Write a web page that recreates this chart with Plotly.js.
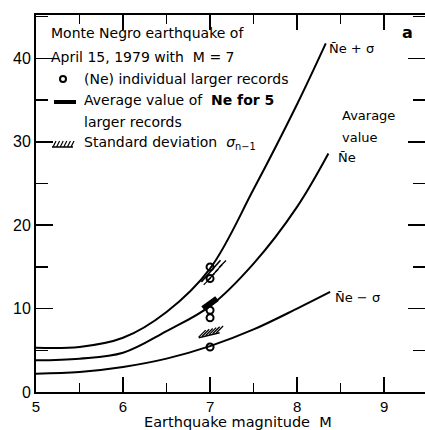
<!DOCTYPE html>
<html>
<head>
<meta charset="utf-8">
<script src="https://cdn.plot.ly/plotly-3.0.1.min.js"></script>
<style>html,body{margin:0;padding:0;background:#fff}#chart{width:425px;height:430px}</style>
</head>
<body>
<div id="chart"></div>
<script>
// ---- data ----
const magPlus  = [5, 5.5, 6, 6.5, 7, 7.5, 8, 8.33];
const nePlusSigma = [5.3, 5.4, 6.5, 9.6, 14.8, 24.3, 34.5, 41.8];

const magMean  = [5, 5.5, 6, 6.5, 7, 7.5, 8, 8.36];
const neMean   = [3.8, 4.0, 4.7, 7.3, 10.3, 15.4, 22.2, 28.6];

const magMinus = [5, 5.5, 6, 6.5, 7, 7.5, 8, 8.38];
const neMinusSigma = [2.2, 2.4, 3.0, 4.0, 5.5, 7.5, 10.0, 12.0];

const recordMag = [7, 7, 7, 7, 7];
const recordNe  = [15.0, 13.6, 9.8, 8.9, 5.4];

const avgMag = 7;
const avgNe = 10.6;
const sigmaUpper = 14.5;
const sigmaLower = 6.8;

const xTicks = [5, 6, 7, 8, 9];
const yTicks = [0, 10, 20, 30, 40];

// ---- helpers ----
function hatch(cx, cy, dx, dy, ox, oy, n) {
  const base = {x: [cx - dx, cx + dx], y: [cy - dy, cy + dy], mode: 'lines', line: {color: '#000', width: 1.6}, hoverinfo: 'skip'};
  const sx = [], sy = [];
  for (let i = 0; i < n; i++) {
    const t = -1 + (2 * i + 1) / n;
    sx.push(cx + t * dx + ox);
    sy.push(cy + t * dy + oy);
  }
  const strokes = {x: sx, y: sy, mode: 'markers', marker: {symbol: 'line-ne', size: 7, line: {color: '#000', width: 1.3}}, hoverinfo: 'skip'};
  return [base, strokes];
}

const curveStyle = {color: '#000', width: 2};
const traces = [
  {x: magPlus, y: nePlusSigma, mode: 'lines', line: Object.assign({shape: 'spline', smoothing: 1}, curveStyle)},
  {x: magMean, y: neMean, mode: 'lines', line: Object.assign({shape: 'spline', smoothing: 1}, curveStyle)},
  {x: magMinus, y: neMinusSigma, mode: 'lines', line: Object.assign({shape: 'spline', smoothing: 1}, curveStyle)},
  // average bar
  {x: [avgMag - 0.08, avgMag + 0.08], y: [avgNe - 0.6, avgNe + 0.6], mode: 'lines', line: {color: '#000', width: 6}},
  ...hatch(avgMag + 0.01, sigmaUpper, 0.11, 1.3, 0.045, -0.2, 5),
  ...hatch(avgMag - 0.01, sigmaLower, 0.12, 0.3, 0.02, 0.45, 6),
  // individual records
  {x: recordMag, y: recordNe, mode: 'markers', marker: {symbol: 'circle-open', size: 7, color: '#000', line: {color: '#000', width: 2}}}
];

function px(v) { return (v - 36) / 389; }
function py(v) { return (392 - v) / 377; }

const F = 'DejaVu Sans, Liberation Sans, sans-serif';
function ann(text, x, y, size, extra) {
  return Object.assign({text: text, xref: 'paper', yref: 'paper', x: px(x), y: py(y), xanchor: 'left', yanchor: 'middle', showarrow: false, font: {family: F, size: size, color: '#000'}}, extra || {});
}

const annotations = [
  ann('Monte Negro earthquake of', 49, 33, 14),
  ann('April 15, 1979 with&nbsp; M = 7', 49, 57, 14),
  ann('(Ne) individual larger records', 82, 79, 14),
  ann('Average value of&nbsp; <b>Ne for 5</b>', 82, 100, 14),
  ann('larger records', 82, 122, 14),
  ann('Standard deviation&nbsp; <i>σ</i><sub>n−1</sub>', 82, 143, 14),
  ann('N̄e + σ', 327, 48, 13),
  ann('Avarage', 340, 116, 13),
  ann('value', 340, 137, 13),
  ann('N̄e', 336, 157, 13),
  ann('N̄e − σ', 333, 297, 13),
  ann('<b>a</b>', 400, 33, 16),
  ann('Earthquake magnitude&nbsp; M', 238, 422, 14.5, {xanchor: 'center'})
];

const shapes = [
  {type: 'circle', xref: 'paper', yref: 'paper', x0: px(60), x1: px(66), y0: py(82), y1: py(76), line: {color: '#000', width: 2}},
  {type: 'line', xref: 'paper', yref: 'paper', x0: px(54), x1: px(76), y0: py(102), y1: py(102), line: {color: '#000', width: 4}},
  {type: 'line', xref: 'paper', yref: 'paper', x0: px(52), x1: px(73), y0: py(147), y1: py(147), line: {color: '#000', width: 1.5}}
];
for (let i = 0; i < 6; i++) {
  const x0 = 53 + i * 3.6;
  shapes.push({type: 'line', xref: 'paper', yref: 'paper', x0: px(x0), x1: px(x0 + 3), y0: py(147), y1: py(141), line: {color: '#000', width: 1.2}});
}

const layout = {
  width: 425, height: 430,
  margin: {l: 36, r: 0, t: 15, b: 38},
  paper_bgcolor: '#fff', plot_bgcolor: '#fff',
  showlegend: false,
  xaxis: {
    range: [5, 9.47], tickvals: xTicks, ticktext: xTicks.map(String),
    ticks: 'inside', ticklen: 15, tickwidth: 1.5, tickcolor: '#000',
    minor: {dtick: 0.5, tick0: 5, ticks: 'inside', ticklen: 9, tickwidth: 1.5, tickcolor: '#000'},
    showline: true, linewidth: 2, linecolor: '#000', mirror: 'allticks',
    showgrid: false, zeroline: false,
    tickfont: {family: 'Liberation Sans, Arial, sans-serif', size: 15, color: '#000'}
  },
  yaxis: {
    range: [0, 45.2], tickvals: yTicks, ticktext: yTicks.map(String),
    ticks: 'inside', ticklen: 17, tickwidth: 1.5, tickcolor: '#000',
    minor: {dtick: 5, tick0: 0, ticks: 'inside', ticklen: 12, tickwidth: 1.5, tickcolor: '#000'},
    showline: true, linewidth: 2, linecolor: '#000', mirror: 'allticks',
    showgrid: false, zeroline: false,
    tickfont: {family: 'Liberation Sans, Arial, sans-serif', size: 16, color: '#000'}
  },
  annotations: annotations,
  shapes: shapes
};

Plotly.newPlot('chart', traces, layout, {staticPlot: true, displayModeBar: false});
</script>
</body>
</html>
